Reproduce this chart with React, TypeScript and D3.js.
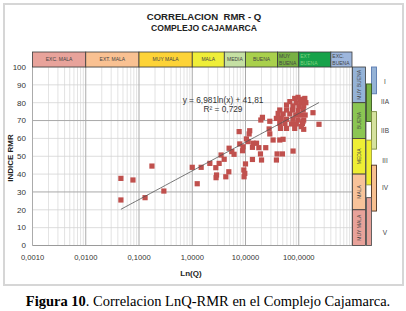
import React from "react";
import * as d3 from "d3";

// ---- data ----
const qValues = [
  0.0457, 0.077, 0.0457, 0.175, 0.13, 0.293,
  1.0, 1.47, 1.24, 2.14, 2.77, 3.2, 2.86, 2.8, 4.27, 4.86, 3.48, 3.98,
  4.92, 5.53, 6.1, 7.6, 7.8, 8.8, 9.0, 9.3, 10.0, 9.7, 9.4, 10.4, 11.2, 11.7, 12.0,
  13.5, 13.9, 16.1, 17.8, 19.1, 20.0, 13.5, 24.0, 19.4, 20.8, 28.6, 27.8, 28.6,
  33.0, 39.2, 49.4, 78.2, 38.1, 44.0, 50.8,
  84, 97, 108, 130, 68, 90, 112, 136, 59, 78, 101, 124, 44, 59, 76, 97, 121,
  41, 51, 68, 88, 108, 132, 38, 47, 59, 78, 97, 124, 44, 55, 73, 90, 117,
  45.5, 59, 84, 112, 124, 185, 240, 120,
];
const rmrValues = [
  37.6, 36.7, 25.5, 44.5, 26.8, 30.5,
  43.8, 43.8, 34.6, 46.0, 43.6, 46.0, 39.5, 38.0, 38.5, 41.3, 50.7, 48.3,
  54.5, 52.6, 51.1, 63.8, 56.9, 53.1, 55.3, 42.3, 45.7, 40.4, 38.5, 59.7, 58.2, 62.5, 64.3,
  55.0, 57.3, 57.3, 54.8, 51.3, 47.9, 48.2, 54.8, 70.3, 71.8, 69.6, 65.3, 62.5,
  59.1, 51.3, 51.3, 52.9, 47.9, 59.1, 59.5,
  82.4, 83.0, 81.9, 82.4, 80.6, 80.0, 80.0, 80.0, 78.7, 78.2, 77.8, 78.2, 75.9, 75.9, 75.9, 75.5, 75.9,
  74.0, 73.7, 73.7, 73.1, 73.1, 73.1, 71.2, 71.2, 70.7, 70.7, 70.3, 70.3, 68.4, 68.4, 68.1, 68.1, 68.4,
  65.6, 65.6, 65.6, 66.6, 65.1, 74.4, 67.9, 69.4,
];
const trendA = 6.981;
const trendB = 41.81;
const equationText = "y = 6,981ln(x) + 41,81";
const r2Text = "R² = 0,729";

const xTickValues = [0.001, 0.01, 0.1, 1, 10, 100];
const xTickLabels = ["0,0010", "0,0100", "0,1000", "1,0000", "10,0000", "100,0000"];
const yTickValues = [0, 10, 20, 30, 40, 50, 60, 70, 80, 90, 100];

const qBreaks = [0.001, 0.01, 0.1, 1, 4, 10, 40, 100, 400, 1000];
const qClassLabels = [
  ["EXC. MALA"], ["EXT. MALA"], ["MUY MALA"], ["MALA"], ["MEDIA"], ["BUENA"],
  ["MUY", "BUENA"], ["EXT", "BUENA"], ["EXC.", "BUENA"],
];
const qClassColors = ["#e8a39b", "#f9c192", "#fdd337", "#efee38", "#c5e0a3", "#a9d04c", "#78b043", "#17a24a", "#9db6dc"];

const rmrBreaks = [100, 80, 60, 40, 20, 0];
const rmrClassLabels = ["MUY BUENA", "BUENA", "MEDIA", "MALA", "MUY MALA"];
const rmrClassColors = ["#95b3d7", "#8bc653", "#eeee34", "#f8c39a", "#e8a29a"];

const romanClasses = ["I", "IIA", "IIB", "III", "IV", "V"];
const romanTop = [100, 90.5, 75, 59, 45, 26.8];
const romanBottom = [85, 69.5, 54, 34, 19.3, 0];
const romanColumn = [1, 0, 1, 0, 1, 0];
const romanFill = ["#95b3d7", "#7cb547", "#d6e39f", "#eeee30", "#f8c090", "#e6a098"];
const romanStroke = ["#5a7ab0", "#3a5a20", "#7a8a40", "#a0a040", "#4a3020", "#555555"];
const romanLabelRmr = [91.8, 80.6, 64.4, 47.4, 32.6, 7];
const gapTop = [69.5, 34];
const gapBottom = [59, 26.8];

export default function App() {
  const W = 406, H = 311;
  const x = d3.scaleLog().domain([0.001, 1000]).range([32.5, 352]);
  const y = d3.scaleLinear().domain([0, 100]).range([245.5, 67]);
  const font = "Arial, 'Liberation Sans', sans-serif";

  const minorX: number[] = [];
  for (let e = -3; e < 3; e++) for (let m = 2; m <= 9; m++) minorX.push(m * Math.pow(10, e));

  const qMin = d3.min(qValues) as number;
  const qMax = d3.max(qValues) as number;
  const trendPts = d3.range(0, 41).map((i) => {
    const q = Math.exp(Math.log(qMin) + (Math.log(qMax) - Math.log(qMin)) * (i / 40));
    return [q, trendA * Math.log(q) + trendB] as [number, number];
  });
  const line = d3.line<[number, number]>().x((d) => x(d[0])).y((d) => y(d[1]));

  const bandTop = 52, bandBot = y(100);
  const rbX0 = x(1000) + 0.5, rbX1 = 365.5;
  const colX = [366.5, 371.5];
  const colW = 5;

  return (
    <svg width={W} height={H} style={{ position: "absolute", left: 0, top: 0, background: "#fff" }} fontFamily={font}>
      <rect x={4} y={4} width={399} height={281} fill="#fff" stroke="#d6d6d6" strokeWidth={2} />
      <text x={204} y={19.5} textAnchor="middle" fontSize={9.6} fontWeight="bold" fill="#222" style={{ whiteSpace: "pre" }}>{"CORRELACION\u00A0 RMR - Q"}</text>
      <text x={204} y={30.8} textAnchor="middle" fontSize={8.6} fontWeight="bold" fill="#222">COMPLEJO CAJAMARCA</text>

      {/* grid */}
      {minorX.map((v, i) => (
        <line key={"mx" + i} x1={x(v)} x2={x(v)} y1={y(0)} y2={y(100)} stroke="#dcdcdc" strokeWidth={0.8} />
      ))}
      {yTickValues.map((v) => (
        <line key={"hy" + v} x1={x(0.001)} x2={x(1000)} y1={y(v)} y2={y(v)}
          stroke={v === 30 || v === 70 ? "#a8a8a8" : "#d4d4d4"} strokeWidth={v === 30 || v === 70 ? 1 : 0.8} />
      ))}
      {xTickValues.concat([1000]).map((v, i) => (
        <line key={"Mx" + i} x1={x(v)} x2={x(v)} y1={y(0)} y2={y(100)} stroke="#ababab" strokeWidth={1} />
      ))}
      <line x1={x(0.001)} x2={x(1000)} y1={y(0)} y2={y(0)} stroke="#9a9a9a" strokeWidth={1} />

      {/* y ticks */}
      {yTickValues.map((v) => (
        <text key={"yt" + v} x={26} y={y(v) + 2.8} textAnchor="end" fontSize={8} fill="#333">{v}</text>
      ))}
      {xTickValues.map((v, i) => (
        <text key={"xt" + i} x={x(v)} y={259.8} textAnchor="middle" fontSize={7.6} fill="#333">{xTickLabels[i]}</text>
      ))}
      <text x={191} y={275.5} textAnchor="middle" fontSize={8} fontWeight="bold" fill="#222">Ln(Q)</text>
      <text transform={`translate(13,158) rotate(-90)`} textAnchor="middle" fontSize={8} fontWeight="bold" fill="#222">INDICE RMR</text>

      {/* top Q class band */}
      {qClassLabels.map((lab, i) => {
        const x0 = x(qBreaks[i]), x1 = x(qBreaks[i + 1]);
        return (
          <g key={"qb" + i}>
            <rect x={x0} y={bandTop} width={x1 - x0} height={bandBot - bandTop} fill={qClassColors[i]} stroke="#3a3a3a" strokeWidth={0.8} />
            {lab.length === 1 ? (
              <text x={(x0 + x1) / 2} y={(bandTop + bandBot) / 2 + 1.8} textAnchor="middle" fontSize={5} fill="#444">{lab[0]}</text>
            ) : (
              <g>
                <text x={x0 + 1.5} y={bandTop + 6} fontSize={5} fill={i === 7 ? "#7fd07f" : "#444"}>{lab[0]}</text>
                <text x={x0 + 1.5} y={bandTop + 12.5} fontSize={5} fill={i === 7 ? "#7fd07f" : "#444"}>{lab[1]}</text>
              </g>
            )}
          </g>
        );
      })}

      {/* right RMR class band */}
      {rmrClassLabels.map((lab, i) => {
        const y0 = y(rmrBreaks[i]), y1 = y(rmrBreaks[i + 1]);
        return (
          <g key={"rb" + i}>
            <rect x={rbX0} y={y0} width={rbX1 - rbX0} height={y1 - y0} fill={rmrClassColors[i]} stroke="#3a3a3a" strokeWidth={0.8} />
            <text transform={`translate(${(rbX0 + rbX1) / 2 + 1.8},${(y0 + y1) / 2}) rotate(-90)`} textAnchor="middle" fontSize={5} fill="#444">{lab}</text>
          </g>
        );
      })}

      {/* roman class bars */}
      {gapTop.map((t, i) => (
        <rect key={"gap" + i} x={colX[0]} y={y(t)} width={colW} height={y(gapBottom[i]) - y(t)} fill="#fff" stroke="#888" strokeWidth={0.6} />
      ))}
      {romanClasses.map((c, i) => (
        <g key={"rc" + i}>
          <rect x={colX[romanColumn[i]]} y={y(romanTop[i])} width={colW} height={y(romanBottom[i]) - y(romanTop[i])}
            fill={romanFill[i]} stroke={romanStroke[i]} strokeWidth={0.9} />
          <text x={385} y={y(romanLabelRmr[i]) + 2.3} textAnchor="middle" fontSize={6.5} fill="#444">{c}</text>
        </g>
      ))}

      {/* points */}
      {qValues.map((q, i) => (
        <rect key={"p" + i} x={x(q) - 2.6} y={y(rmrValues[i]) - 2.6} width={5.2} height={5.2} fill="#c0504d" />
      ))}
      <path d={line(trendPts) || ""} fill="none" stroke="#555" strokeWidth={0.8} />
      <text x={223} y={102.5} textAnchor="middle" fontSize={8.3} fill="#333">{equationText}</text>
      <text x={223} y={112} textAnchor="middle" fontSize={8.3} fill="#333">{r2Text}</text>

      {/* caption */}
      <text x={208} y={305.5} textAnchor="middle" fontSize={14.5} fontFamily="'Liberation Serif', 'Times New Roman', serif" fill="#000">
        <tspan fontWeight="bold">Figura 10</tspan>. Correlacion LnQ-RMR en el Complejo Cajamarca.
      </text>
    </svg>
  );
}
